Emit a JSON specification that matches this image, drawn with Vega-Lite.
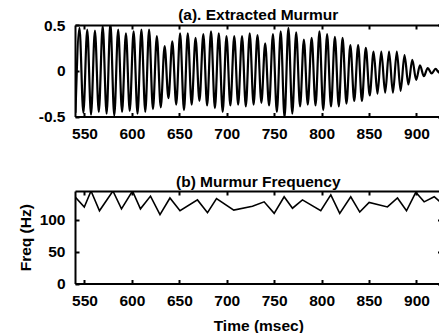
{
  "$schema": "https://vega.github.io/schema/vega-lite/v6.json",
  "padding": {"left": 18, "top": 8, "right": 0, "bottom": 0},
  "spacing": 32,
  "config": {
    "view": {"stroke": null},
    "font": "Liberation Sans",
    "axis": {
      "labelFont": "Liberation Sans", "labelFontSize": 15.5, "labelFontWeight": "bold", "labelColor": "black",
      "titleFont": "Liberation Sans", "titleFontSize": 15.5, "titleFontWeight": "bold", "titleColor": "black",
      "domainColor": "black", "domainWidth": 2, "tickColor": "black", "tickWidth": 2, "tickSize": -4,
      "grid": false, "labelPadding": 14, "titlePadding": 6
    },
    "title": {"font": "Liberation Sans", "fontSize": 15.5, "fontWeight": "bold", "color": "black"}
  },
  "datasets": {
    "wave": [
      {"t": 540.5, "v": -0.46},
      {"t": 544.7, "v": 0.47}, {"t": 548.8, "v": -0.46},
      {"t": 552.9, "v": 0.45}, {"t": 556.9, "v": -0.48},
      {"t": 561.0, "v": 0.44}, {"t": 565.1, "v": -0.45},
      {"t": 569.2, "v": 0.49}, {"t": 573.3, "v": -0.47},
      {"t": 577.3, "v": 0.52}, {"t": 581.4, "v": -0.49},
      {"t": 585.5, "v": 0.45}, {"t": 589.6, "v": -0.45},
      {"t": 593.7, "v": 0.41}, {"t": 597.7, "v": -0.44},
      {"t": 601.8, "v": 0.43}, {"t": 605.9, "v": -0.47},
      {"t": 610.0, "v": 0.45}, {"t": 614.1, "v": -0.45},
      {"t": 618.1, "v": 0.45}, {"t": 622.2, "v": -0.42},
      {"t": 626.3, "v": 0.38}, {"t": 630.4, "v": -0.40},
      {"t": 634.5, "v": 0.27}, {"t": 638.5, "v": -0.30},
      {"t": 642.6, "v": 0.32}, {"t": 646.7, "v": -0.37},
      {"t": 650.8, "v": 0.41}, {"t": 654.9, "v": -0.43},
      {"t": 658.9, "v": 0.41}, {"t": 663.0, "v": -0.37},
      {"t": 667.1, "v": 0.36}, {"t": 671.2, "v": -0.33},
      {"t": 675.3, "v": 0.40}, {"t": 679.3, "v": -0.38},
      {"t": 683.4, "v": 0.43}, {"t": 687.5, "v": -0.41},
      {"t": 691.6, "v": 0.41}, {"t": 695.7, "v": -0.45},
      {"t": 699.7, "v": 0.38}, {"t": 703.8, "v": -0.38},
      {"t": 707.9, "v": 0.38}, {"t": 712.0, "v": -0.37},
      {"t": 716.1, "v": 0.38}, {"t": 720.1, "v": -0.39},
      {"t": 724.2, "v": 0.41}, {"t": 728.3, "v": -0.37},
      {"t": 732.4, "v": 0.39}, {"t": 736.5, "v": -0.35},
      {"t": 740.5, "v": 0.30}, {"t": 744.6, "v": -0.38},
      {"t": 748.7, "v": 0.40}, {"t": 752.8, "v": -0.45},
      {"t": 756.9, "v": 0.43}, {"t": 760.9, "v": -0.51},
      {"t": 765.0, "v": 0.47}, {"t": 769.1, "v": -0.47},
      {"t": 773.2, "v": 0.42}, {"t": 777.3, "v": -0.39},
      {"t": 781.3, "v": 0.34}, {"t": 785.4, "v": -0.37},
      {"t": 789.5, "v": 0.36}, {"t": 793.6, "v": -0.38},
      {"t": 797.7, "v": 0.43}, {"t": 801.7, "v": -0.43},
      {"t": 805.8, "v": 0.40}, {"t": 809.9, "v": -0.39},
      {"t": 814.0, "v": 0.37}, {"t": 818.1, "v": -0.39},
      {"t": 822.1, "v": 0.36}, {"t": 826.2, "v": -0.36},
      {"t": 830.3, "v": 0.28}, {"t": 834.4, "v": -0.33},
      {"t": 838.5, "v": 0.28}, {"t": 842.5, "v": -0.33},
      {"t": 846.6, "v": 0.25}, {"t": 850.7, "v": -0.27},
      {"t": 854.8, "v": 0.21}, {"t": 858.9, "v": -0.25},
      {"t": 862.9, "v": 0.21}, {"t": 867.0, "v": -0.24},
      {"t": 871.1, "v": 0.21}, {"t": 875.2, "v": -0.24},
      {"t": 879.3, "v": 0.21}, {"t": 883.3, "v": -0.22},
      {"t": 887.4, "v": 0.17}, {"t": 891.5, "v": -0.15},
      {"t": 895.6, "v": 0.12}, {"t": 899.7, "v": -0.10},
      {"t": 903.7, "v": 0.06}, {"t": 907.8, "v": -0.06},
      {"t": 911.9, "v": 0.03}, {"t": 916.0, "v": -0.03},
      {"t": 920.1, "v": 0.02}, {"t": 924.1, "v": -0.02},
      {"t": 928.2, "v": 0.01}
    ],
    "freq": [
      {"t": 540.0, "f": 136}, {"t": 549.8, "f": 120}, {"t": 556.9, "f": 145},
      {"t": 565.8, "f": 114}, {"t": 580.0, "f": 145}, {"t": 589.0, "f": 117},
      {"t": 600.6, "f": 145}, {"t": 609.0, "f": 117}, {"t": 619.6, "f": 137},
      {"t": 629.6, "f": 108}, {"t": 640.1, "f": 134}, {"t": 650.7, "f": 114},
      {"t": 669.1, "f": 131}, {"t": 679.7, "f": 111}, {"t": 689.2, "f": 133},
      {"t": 707.4, "f": 115}, {"t": 727.1, "f": 121}, {"t": 739.4, "f": 128},
      {"t": 750.0, "f": 110}, {"t": 760.5, "f": 136}, {"t": 769.3, "f": 118},
      {"t": 779.8, "f": 131}, {"t": 799.1, "f": 114}, {"t": 809.7, "f": 139},
      {"t": 819.1, "f": 110}, {"t": 830.7, "f": 136}, {"t": 840.2, "f": 112},
      {"t": 850.1, "f": 127}, {"t": 869.4, "f": 120}, {"t": 880.0, "f": 134},
      {"t": 889.5, "f": 114}, {"t": 899.3, "f": 143}, {"t": 908.1, "f": 128},
      {"t": 918.7, "f": 136}, {"t": 927.4, "f": 125}
    ]
  },
  "vconcat": [
    {
      "width": 366.5,
      "height": 91.5,
      "title": {"text": "(a). Extracted Murmur", "offset": -5.5},
      "data": {"name": "wave"},
      "resolve": {"axis": {"x": "independent", "y": "independent"}},
      "layer": [
        {
          "mark": {"type": "line", "color": "black", "strokeWidth": 2.2, "interpolate": "monotone", "clip": true},
          "encoding": {
            "x": {"field": "t", "type": "quantitative", "scale": {"domain": [540, 926.4], "nice": false, "zero": false},
                  "axis": {"values": [550, 600, 650, 700, 750, 800, 850, 900], "title": null}},
            "y": {"field": "v", "type": "quantitative", "scale": {"domain": [-0.5, 0.5], "nice": false, "zero": false},
                  "axis": {"values": [-0.5, 0, 0.5], "title": null, "labelExpr": "replace(format(datum.value, '~g'), '\u2212', '-')"}}
          }
        },
        {
          "mark": {"type": "line", "opacity": 0, "clip": true},
          "encoding": {
            "x": {"field": "t", "type": "quantitative",
                  "axis": {"orient": "top", "values": [550, 600, 650, 700, 750, 800, 850, 900], "labels": false, "title": null, "minExtent": 0, "maxExtent": 0}},
            "y": {"field": "v", "type": "quantitative",
                  "axis": {"orient": "right", "values": [-0.5, 0, 0.5], "labels": false, "domain": false, "title": null, "minExtent": 0, "maxExtent": 0}}
          }
        }
      ]
    },
    {
      "width": 366.5,
      "height": 92.5,
      "title": {"text": "(b) Murmur Frequency", "offset": 0},
      "data": {"name": "freq"},
      "resolve": {"axis": {"x": "independent", "y": "independent"}},
      "layer": [
        {
          "mark": {"type": "line", "color": "black", "strokeWidth": 1.6, "clip": true},
          "encoding": {
            "x": {"field": "t", "type": "quantitative", "scale": {"domain": [540, 926.4], "nice": false, "zero": false},
                  "axis": {"values": [550, 600, 650, 700, 750, 800, 850, 900], "title": "Time (msec)", "titlePadding": 9}},
            "y": {"field": "f", "type": "quantitative", "scale": {"domain": [0, 145], "nice": false},
                  "axis": {"values": [0, 50, 100], "title": "Freq (Hz)"}}
          }
        },
        {
          "mark": {"type": "line", "opacity": 0, "clip": true},
          "encoding": {
            "x": {"field": "t", "type": "quantitative",
                  "axis": {"orient": "top", "values": [550, 600, 650, 700, 750, 800, 850, 900], "labels": false, "title": null, "minExtent": 0, "maxExtent": 0}},
            "y": {"field": "f", "type": "quantitative",
                  "axis": {"orient": "right", "values": [0, 50, 100], "labels": false, "domain": false, "title": null, "minExtent": 0, "maxExtent": 0}}
          }
        }
      ]
    }
  ]
}
